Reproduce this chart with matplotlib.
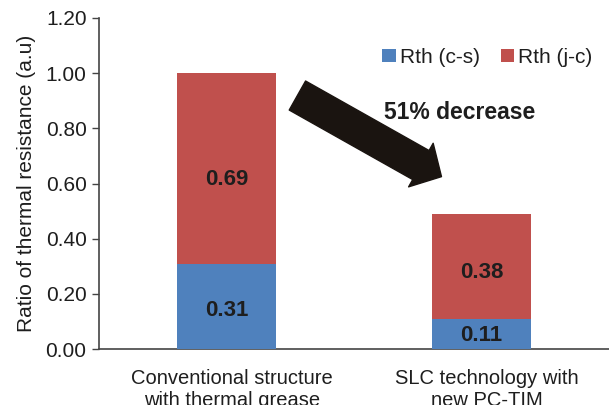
import numpy as np
import matplotlib
matplotlib.use("Agg")
from matplotlib import pyplot as plt

plt.rcParams["font.family"] = ["Liberation Sans", "DejaVu Sans"]

categories = ["Conventional structure\nwith thermal grease", "SLC technology with\nnew PC-TIM"]
rth_cs = [0.31, 0.11]
rth_jc = [0.69, 0.38]
series_names = ["Rth (c-s)", "Rth (j-c)"]
yticks = [0.0, 0.2, 0.4, 0.6, 0.8, 1.0, 1.2]

blue = "#4f81bd"
red = "#c0504d"
textc = "#1e1e1e"

fig = plt.figure(figsize=(6.09, 4.05), dpi=100)
ax = fig.add_axes([0.1626, 0.138, 0.8374, 0.8176])

X = np.arange(len(categories))
width = 0.39

ax.bar(X, rth_cs, width=width, color=blue, label=series_names[0], zorder=3)
ax.bar(X, rth_jc, width=width, bottom=rth_cs, color=red, label=series_names[1], zorder=3)

# value labels, sitting a little below the middle of each segment
for i in range(len(X)):
    ax.text(X[i], rth_cs[i] * 0.45, f"{rth_cs[i]:.2f}", ha="center", va="center",
            fontsize=16, fontweight="bold", color=textc, zorder=4)
    ax.text(X[i], rth_cs[i] + rth_jc[i] * 0.44, f"{rth_jc[i]:.2f}", ha="center", va="center",
            fontsize=16, fontweight="bold", color=textc, zorder=4)

ax.set_xlim(-0.5, 1.5)
ax.set_ylim(0, 1.2)
ax.set_yticks(yticks)
ax.set_yticklabels([f"{t:.2f}" for t in yticks])
ax.set_xticks(X + 0.02)
ax.set_xticklabels(categories, linespacing=1.25)
ax.tick_params(axis="y", labelsize=15, length=5, width=1, colors="#444444", labelcolor=textc, pad=4)
ax.tick_params(axis="x", labelsize=14.5, length=0, pad=14, labelcolor=textc)
ax.set_ylabel("Ratio of thermal resistance (a.u)", fontsize=15, color=textc, labelpad=7)

for s in ["top", "right"]:
    ax.spines[s].set_visible(False)
for s in ["left", "bottom"]:
    ax.spines[s].set_color("#444444")
    ax.spines[s].set_linewidth(1.2)

# big arrow showing the reduction
ax.annotate("", xy=(0.843, 0.625), xytext=(0.278, 0.919),
            arrowprops=dict(arrowstyle="simple,head_length=0.85,head_width=1.8,tail_width=1.2",
                            mutation_scale=20, color="#1a1410", shrinkA=0, shrinkB=0))
ax.text(0.914, 0.859, "51% decrease", ha="center", va="center", fontsize=16.5,
        fontweight="bold", color=textc)

ax.legend(loc="upper left", bbox_to_anchor=(0.555, 0.91), ncol=2, frameon=False,
          fontsize=15, handlelength=0.65, handleheight=0.65, handletextpad=0.2,
          columnspacing=1.0, borderpad=0, borderaxespad=0, labelcolor=textc)

fig.savefig("out.png", dpi=100)
